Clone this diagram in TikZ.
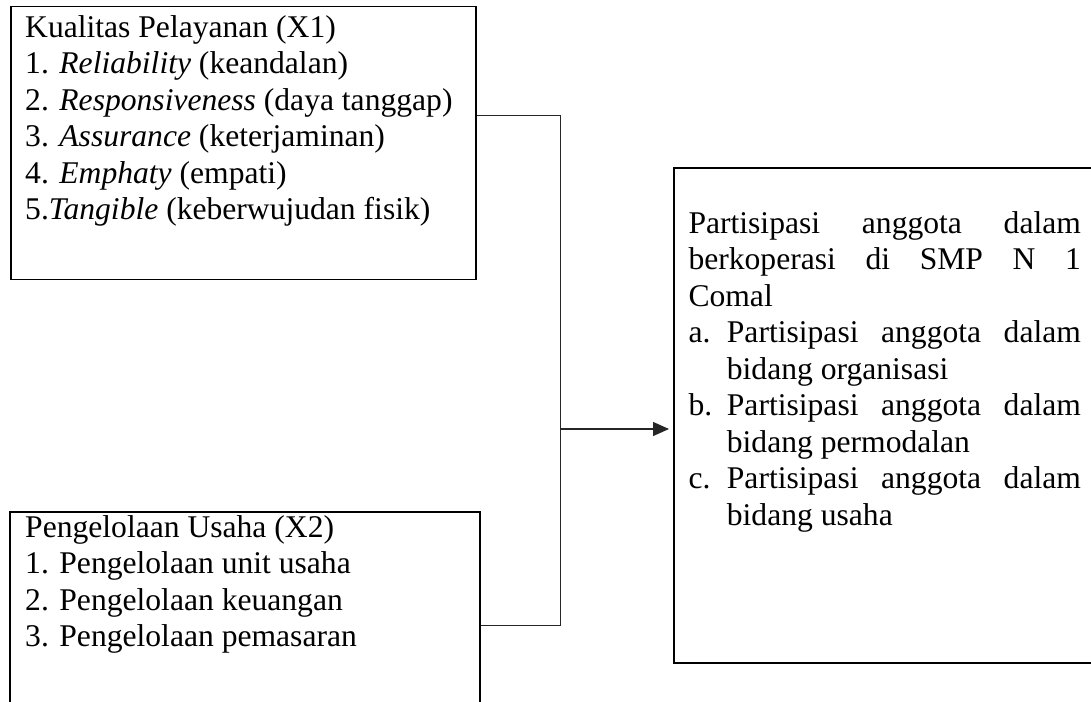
\documentclass[tikz,border=0pt]{standalone}
\usepackage{fontspec}
\setmainfont{Liberation Serif}
\usetikzlibrary{arrows.meta}
\begin{document}
\begin{tikzpicture}[x=1pt,y=-1pt,
  box/.style={draw, line width=1.5pt, rectangle, anchor=north west, inner sep=0pt},
  wire/.style={line width=1.1pt, draw=black!85},
  txt/.style={anchor=base west, inner sep=0pt, font=\fontsize{31.6}{36.5}\selectfont}]
\useasboundingbox (0,0) rectangle (1091,701);
\clip (0,0) rectangle (1091,701);
\fill[white] (0,0) rectangle (1091,701);
% boxes
\node[box, minimum width=465pt, minimum height=273pt] (x1) at (10,5.7) {};
\node[box, minimum width=469.7pt, minimum height=230pt] (x2) at (9.3,511) {};
\node[box, minimum width=440pt, minimum height=495.3pt] (y) at (673,167) {};
% box 1 text
\node[txt] (k0) at (25,37.3) {Kualitas Pelayanan (X1)};
\node[txt] (k1) at (25,73.8) {1. \textit{Reliability} (keandalan)};
\node[txt] (k2) at (25,110.3) {2. \textit{Responsiveness} (daya tanggap)};
\node[txt] (k3) at (25,146.8) {3. \textit{Assurance} (keterjaminan)};
\node[txt] (k4) at (25,183.3) {4. \textit{Emphaty} (empati)};
\node[txt] (k5) at (25,219.8) {5.\textit{Tangible} (keberwujudan fisik)};
% box 2 text
\node[txt] (u0) at (25,537.3) {Pengelolaan Usaha (X2)};
\node[txt] (u1) at (25,573.8) {1. Pengelolaan unit usaha};
\node[txt] (u2) at (25,610.3) {2. Pengelolaan keuangan};
\node[txt] (u3) at (25,646.8) {3. Pengelolaan pemasaran};
% box 3 text
\node[txt] (p0) at (688.3,233.3) {\makebox[392.4pt][s]{Partisipasi anggota dalam}};
\node[txt] (p1) at (688.3,269.8) {\makebox[392.4pt][s]{berkoperasi di SMP N 1}};
\node[txt] (p2) at (688.3,306.3) {Comal};
\node[txt] (pa) at (688.3,342.8) {a.};
\node[txt] (pa1) at (726.7,342.8) {\makebox[354pt][s]{Partisipasi anggota dalam}};
\node[txt] (pa2) at (726.7,379.3) {bidang organisasi};
\node[txt] (pb) at (688.3,415.8) {b.};
\node[txt] (pb1) at (726.7,415.8) {\makebox[354pt][s]{Partisipasi anggota dalam}};
\node[txt] (pb2) at (726.7,452.3) {bidang permodalan};
\node[txt] (pc) at (688.3,488.8) {c.};
\node[txt] (pc1) at (726.7,488.8) {\makebox[354pt][s]{Partisipasi anggota dalam}};
\node[txt] (pc2) at (726.7,525.3) {bidang usaha};
% connectors
\coordinate (jt) at (560.3,115.7);
\coordinate (jb) at (560.3,625.7);
\coordinate (j) at (560.3,429);
\draw[wire] (x1.east |- jt) -- (jt) -- (jb) -- (x2.east |- jb);
\draw[wire, line width=1.3pt, shorten >=4pt, -{Triangle[length=16pt,width=14pt]}] (j) -- (y.west |- j);
\end{tikzpicture}
\end{document}
